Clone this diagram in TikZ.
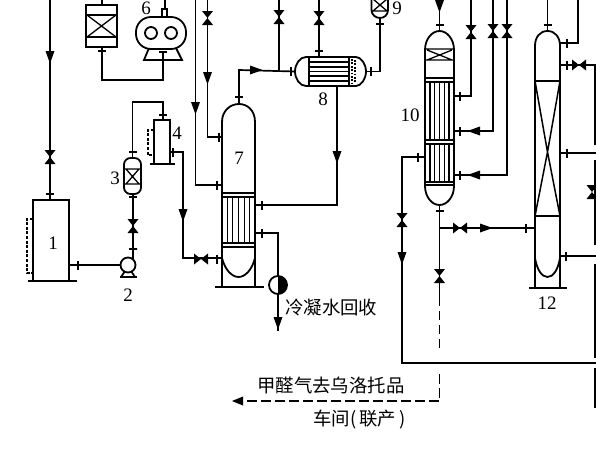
\documentclass[tikz,border=0pt]{standalone}
\usepackage{fontspec}
\setmainfont{Liberation Serif}
\newfontfamily\cjk{Noto Sans CJK SC}
\begin{document}
\begin{tikzpicture}[x=1pt,y=-1pt,line join=miter,
  pipe/.style={line width=1.7pt},
  thinpipe/.style={line width=1.1pt},
  shell/.style={line width=1.8pt},
  dashpipe/.style={line width=1.7pt,dash pattern=on 9pt off 5pt},
  gauge/.style={line width=1.3pt,dash pattern=on 3pt off 1.6pt},
  num/.style={font=\fontsize{19}{19}\selectfont,inner sep=0pt},
  cn/.style={font=\cjk\fontsize{18.4}{19}\selectfont,inner sep=0pt},
  rbox/.style={draw,shell,rectangle,inner sep=0pt,minimum width=#1},
  pics/vvalve/.style={code={\fill (-5.5,-7)--(5.5,-7)--(0,0)--(5.5,7)--(-5.5,7)--(0,0)--cycle;}},
  pics/hvalve/.style={code={\fill (-7,-5.5)--(-7,5.5)--(0,0)--(7,5.5)--(7,-5.5)--(0,0)--cycle;}},
  pics/ad/.style={code={\fill (-4.5,-6)--(4.5,-6)--(0,6.5)--cycle;}},
  pics/al/.style={code={\fill (6,-4.5)--(6,4.5)--(-6.5,0)--cycle;}},
  pics/ar/.style={code={\fill (-6,-4.5)--(-6,4.5)--(6.5,0)--cycle;}},
  pics/th/.style={code={\draw[line width=1.6pt] (-4,0)--(4,0);}},
  pics/tv/.style={code={\draw[line width=1.6pt] (0,-4.5)--(0,4.5);}},
]
\useasboundingbox (0,0) rectangle (596,466);
\begin{scope}
\clip (0,0) rectangle (596,466);

% ---- equipment ----
\node[rbox=36pt,minimum height=81pt] (v1) at (51,240.5) {};
\draw[shell] (28,281)--(77,281);
\draw[gauge] (33,219)--(27,219)--(27,273)--(33,273);
\node[num] (l1) at (53,243) {1};

% pump 2
\node[draw,shell,circle,minimum size=15pt,inner sep=0pt] (p2) at (128,265) {};
\draw[shell] (133,259)--(133,249) (129,249)--(137,249)  (125,271)--(121,277)  (131,271)--(135,277);
\draw[line width=2.2pt] (120,277)--(137,277);
\node[num] (l2) at (128,295) {2};

% filter 3
\node[draw,shell,rectangle,rounded corners=6.5pt,minimum width=17pt,minimum height=36pt,inner sep=0pt] (f3) at (132.5,176) {};
\draw[line width=1.3pt] (124.5,169)--(140.5,169) (124.5,184)--(140.5,184) (126,169)--(139,184) (139,169)--(126,184);
\node[num] (l3) at (115,178) {3};

% box 4
\node[rbox=16pt,minimum height=44pt] (b4) at (162,142) {};
\draw[shell] (150,164)--(175,164);
\draw[gauge] (154,130)--(148,130)--(148,155)--(154,155);
\node[num] (l4) at (177,133) {4};

% box 5
\node[rbox=31pt,minimum height=42pt] (b5) at (101.5,26) {};
\draw[shell] (86,15)--(117,15) (86,37)--(117,37);
\draw[line width=1.3pt] (87,15)--(116,37) (116,15)--(87,37);

% blower 6
\draw[shell] (149,48)--(144,60)--(182,60)--(176,48);
\node[draw,shell,rectangle,rounded corners=15pt,fill=white,minimum width=50pt,minimum height=32pt,inner sep=0pt] (b6) at (161,33) {};
\draw[shell] (151,33) circle (6) (171,33) circle (6);
\draw[shell] (162,17)--(162,9)--(167,9)--(167,17);
\node[num] (l6) at (146,8.5) {6};

% column 7
\coordinate (c7top) at (239,104);
\draw[shell] (222,287)--(222,122) .. controls (222,110) and (231,104) .. (c7top)
  .. controls (247,104) and (255,110) .. (255,122)--(255,287);
\draw[line width=2.2pt] (215,287)--(264,287);
\draw[line width=1.5pt] (222,193)--(255,193) (222,197)--(255,197) (222,243)--(255,243);
\draw[line width=2.4pt] (222,247)--(255,247);
\foreach \x in {227.5,232.5,238.5,244.5,249.5} \draw[line width=1.3pt] (\x,197)--(\x,243);
\draw[shell] (222,258) .. controls (225,270) and (232,277) .. (238.5,277) .. controls (245,277) and (252,270) .. (255,258);
\node[num] (l7) at (239,158) {7};

% condenser 8
\coordinate (h8w) at (295,71.5);
\coordinate (h8e) at (366,71.5);
\draw[shell] (306,57)--(356,57) .. controls (361,57) and (366,64) .. (h8e) .. controls (366,79) and (361,86) .. (356,86)
  --(306,86) .. controls (300,86) and (295,79) .. (h8w) .. controls (295,64) and (300,57) .. (306,57)--cycle;
\draw[line width=2.6pt] (309,57)--(309,86);
\draw[line width=1.6pt] (349,57)--(349,86);
\foreach \y in {62,67,71.5,76,81} \draw[line width=1.3pt] (309,\y)--(349,\y);
\draw[gauge,line width=2pt,dash pattern=on 1.8pt off 1.6pt] (351.5,59)--(351.5,84) (355,60)--(355,83);
\node[num] (l8) at (323,99) {8};

% 9
\coordinate (n9b) at (380,18);
\draw[shell] (371.5,-4)--(371.5,10) .. controls (371.5,15) and (376,18) .. (n9b) .. controls (384,18) and (388,15) .. (388,10)--(388,-4);
\draw[line width=1.3pt] (371.5,11)--(388,11) (373,-1)--(387,11) (387,-1)--(373,11);
\node[num] (l9) at (397,8.5) {9};

% column 10
\coordinate (c10top) at (439.5,31);
\coordinate (c10bot) at (439.5,205);
\draw[shell] (425,186)--(425,50) .. controls (425,39) and (432,31) .. (c10top) .. controls (447,31) and (454,39) .. (454,50)--(454,186)
  .. controls (454,197) and (447,205) .. (c10bot) .. controls (432,205) and (425,197) .. (425,186);
\draw[line width=1.3pt] (425,49)--(454,49) (425,60)--(454,60) (427,50)--(452,60) (452,50)--(427,60);
\draw[shell] (425,78)--(454,78) (425,82)--(454,82) (425,140)--(454,140) (425,144)--(454,144) (425,182)--(454,182) (425,185)--(454,185);
\foreach \x in {430,434.5,439.5,444.5,449}{\draw[line width=1.3pt] (\x,82)--(\x,140) (\x,144)--(\x,182);}
\node[num] (l10) at (410,115) {10};

% column 12
\coordinate (c12top) at (547.5,31);
\draw[shell] (535,288)--(535,46) .. controls (535,37) and (540,31) .. (c12top) .. controls (555,31) and (560,37) .. (560,46)--(560,288);
\draw[shell] (535,81)--(560,81) (535,216)--(560,216);
\draw[line width=1.5pt] (535,81)--(547.5,152)--(560,81) (535,216)--(547.5,152)--(560,216);
\draw[shell] (535,258) .. controls (537,270) and (542,277) .. (547.5,277) .. controls (553,277) and (558,270) .. (560,258);
\draw[line width=2pt] (529,288)--(567,288);
\node[num] (l12) at (547,303) {12};

% ---- connectors ----
\coordinate (a0) at (50,-2);
\coordinate (a7) at (195.5,-2);
\coordinate (b7) at (207.5,-2);
\coordinate (c8) at (279,-2);
\coordinate (d8) at (319,-2);
\coordinate (top6) at (165,-2);
\coordinate (top5) at (102,-2);
\coordinate (top10) at (439.5,-2);
\coordinate (top12) at (547.5,-2);
\coordinate (j78) at (279,70);
\coordinate (bot8) at (337,86);
\coordinate (trap) at (278,285);
\coordinate (drain) at (278,331);
\coordinate (j10) at (439.5,228);
\coordinate (solid) at (439.5,297);

\draw[pipe] (a0)--(50,200);
\draw[pipe] (v1.east |- p2)--(p2);
\draw[pipe] (133,249)--(133,194);
\draw[thinpipe] (132.5,158)--(132.5,102)--(163,102)--(163,120);
\draw[pipe] (170,152)--(183,152)--(183,258)--(222,258);
\draw[pipe] (top5)--(b5.north -| top5);
\draw[pipe] (102,47)--(102,80)--(163,80)--(163,52);
\draw[pipe] (top6)--(165,9);
\draw[pipe] (a7)--(195.5,185)--(222,185);
\draw[pipe] (b7)--(207.5,137)--(222,137);
\draw[pipe] (c7top)--(239,70)--(h8w);
\draw[pipe] (c8)--(j78);
\draw[pipe] (d8)--(319,57);
\draw[pipe] (h8e)--(380,71.5)--(n9b);
\draw[pipe] (bot8)--(337,205)--(255,205);
\draw[pipe] (255,233)--(278,233)--(trap)--(drain);
\draw[pipe] (top10)--(c10top);
\draw[pipe] (471,-2)--(471,96)--(454,96);
\draw[pipe] (493,-2)--(493,131)--(454,131);
\draw[pipe] (507,-2)--(507,175)--(454,175);
\draw[pipe] (425,157)--(402,157)--(402,363)--(598,363);
\draw[pipe] (c10bot)--(solid);
\draw[pipe] (j10)--(535,228);
\draw[dashpipe] (solid)--(439.5,351);
\draw[dashpipe,dash pattern=on 10pt off 4pt] (439.5,374)--(439.5,401)--(240,401);
\fill (232,401)--(243,396.5)--(243,405.5)--cycle;
\draw[pipe] (top12)--(c12top);
\draw[pipe] (560,43)--(578,43)--(578,-2);
\draw[pipe] (560,65)--(598,65);
\draw[pipe] (560,153)--(598,153);
\draw[pipe] (560,256)--(598,256);
\draw[pipe] (595,65)--(595,145) (595,160)--(595,245) (595,264)--(595,358) (595,368)--(595,408);

% trap
\node[draw,shell,circle,fill=white,minimum size=18pt,inner sep=0pt] (t) at (trap) {};
\fill (278,276) arc[start angle=-90,end angle=90,radius=9] -- cycle;

% ---- fittings ----
\foreach \x/\y in {50/157,133/226,207.5/18,279/17,319/18,471/32,493/31,507/31,402/220,439.5/276,592/192} \pic at (\x,\y) {vvalve};
\foreach \x/\y in {201/259,460/228,579/65} \pic at (\x,\y) {hvalve};
\foreach \x/\y in {50/57,183/215,207.5/78,195.5/108,337/157,439.5/6,402/258,278/323} \pic at (\x,\y) {ad};
\foreach \x/\y in {474/131,474/175} \pic at (\x,\y) {al};
\foreach \x/\y in {256/70,486/228} \pic at (\x,\y) {ar};
\foreach \x/\y in {50/194,133/197,132.5/152,163/115,102/51,163/52,239/97,319/51,380/24,439.5/25,439.5/211,547.5/25} \pic at (\x,\y) {th};
\foreach \x/\y in {78/265,173/152,217/259,217/185,219/137,262/205,262/233,291/71,371/71.5,460/96,460/131,460/175,418/157,526/228,567/43,567/65,567/153,566/256} \pic at (\x,\y) {tv};

% ---- texts ----
\node[cn,anchor=west] (tcond) at (285,307.5) {冷凝水回收};
\node[cn,anchor=west] (tform) at (257,385) {甲醛气去乌洛托品};
\node[cn,anchor=west] (tshop) at (313,420) {车间(\hspace{3pt}联产\hspace{3pt})};
\end{scope}
\end{tikzpicture}
\end{document}
